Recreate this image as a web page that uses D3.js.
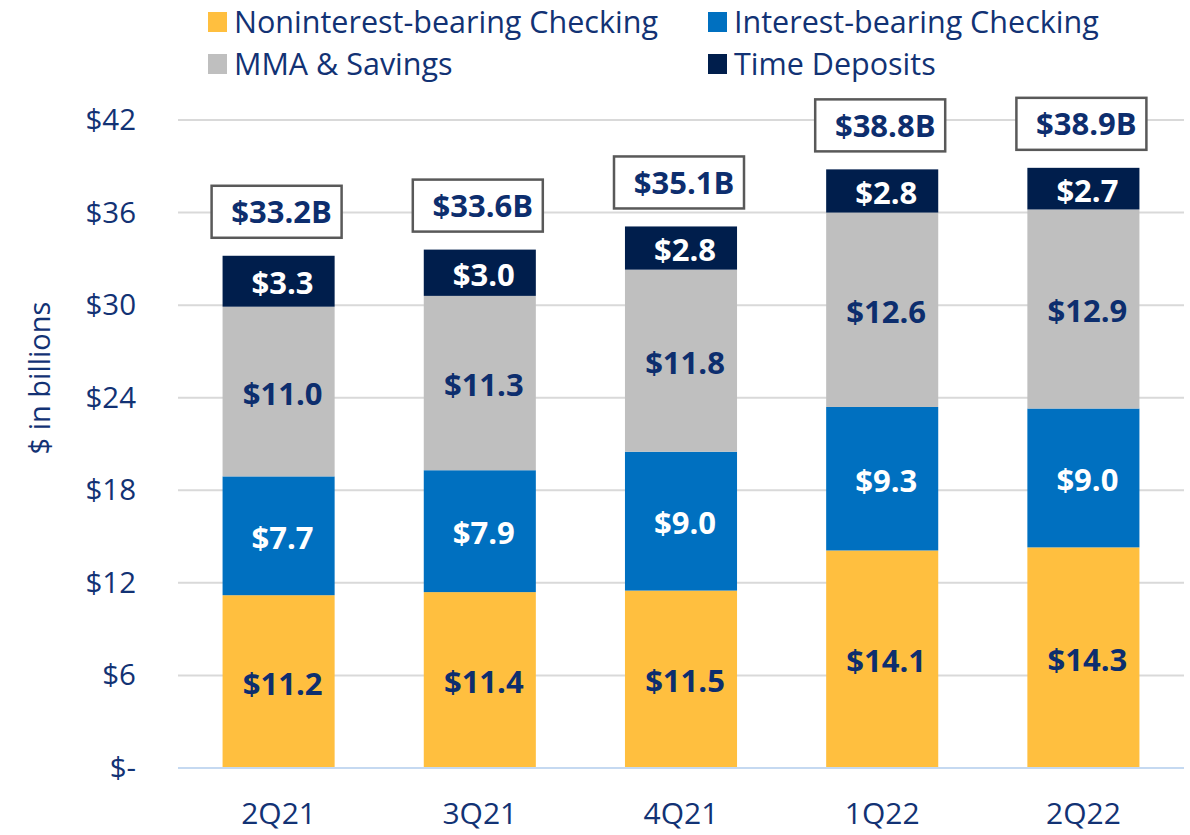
<!DOCTYPE html>
<html>
<head>
<meta charset="utf-8">
<script src="https://cdn.jsdelivr.net/npm/d3@7"></script>
<style>
  html, body { margin: 0; padding: 0; background: #fff; }
  svg { display: block; font-family: "Open Sans", "Noto Sans", sans-serif; }
</style>
</head>
<body>
<svg id="chart" width="1190" height="835"></svg>
<script>
const categories = ["2Q21", "3Q21", "4Q21", "1Q22", "2Q22"];
const seriesNames = ["Noninterest-bearing Checking", "Interest-bearing Checking", "MMA & Savings", "Time Deposits"];
const nonInterest = [11.2, 11.4, 11.5, 14.1, 14.3];
const interest = [7.7, 7.9, 9.0, 9.3, 9.0];
const mmaSavings = [11.0, 11.3, 11.8, 12.6, 12.9];
const timeDeposits = [3.3, 3.0, 2.8, 2.8, 2.7];
const totals = [33.2, 33.6, 35.1, 38.8, 38.9];
const yTicks = [0, 6, 12, 18, 24, 30, 36, 42];
const yTickLabels = ["$-", "$6", "$12", "$18", "$24", "$30", "$36", "$42"];

const colors = ["#FFBF3F", "#0070C0", "#BFBFBF", "#001E4C"];
const labelColors = ["#0D2E6E", "#FFFFFF", "#0D2E6E", "#FFFFFF"];
const navy = "#123274";

const svg = d3.select("#chart");
const margin = {left: 178, right: 6, top: 120, bottom: 67};
const W = 1190, H = 835;

const x = d3.scaleBand().domain(categories).range([margin.left, W - margin.right]).paddingInner(0.443).paddingOuter(0.2215);
const y = d3.scaleLinear().domain([0, 42]).range([H - margin.bottom, margin.top]);

// gridlines
svg.append("g").selectAll("line").data(yTicks.filter(d => d > 0)).join("line")
  .attr("x1", margin.left).attr("x2", W - margin.right)
  .attr("y1", d => y(d)).attr("y2", d => y(d))
  .attr("stroke", "#D9D9D9").attr("stroke-width", 2);

// y axis
const yAxis = d3.axisLeft(y).tickValues(yTicks).tickFormat((d, i) => yTickLabels[i]).tickSize(0).tickPadding(42);
const gy = svg.append("g").attr("transform", `translate(${margin.left},0)`).call(yAxis);
gy.select(".domain").remove();
gy.selectAll("text").attr("fill", navy).style("font-size", "29.5px").style("font-family", "'Open Sans', sans-serif");

// stacked data
const rows = categories.map((c, i) => ({cat: c, s0: nonInterest[i], s1: interest[i], s2: mmaSavings[i], s3: timeDeposits[i]}));
const stack = d3.stack().keys(["s0", "s1", "s2", "s3"]);
const stacked = stack(rows);

const barG = svg.append("g");
stacked.forEach((layer, li) => {
  const g = barG.append("g");
  g.selectAll("rect").data(layer).join("rect")
    .attr("x", d => x(d.data.cat))
    .attr("width", x.bandwidth())
    .attr("y", d => y(d[1]))
    .attr("height", d => y(d[0]) - y(d[1]))
    .attr("fill", colors[li]);
  g.selectAll("text").data(layer).join("text")
    .attr("x", d => x(d.data.cat) + x.bandwidth() / 2 + 4)
    .attr("y", d => (y(d[0]) + y(d[1])) / 2 + 2)
    .attr("dy", "0.36em")
    .attr("text-anchor", "middle")
    .attr("fill", labelColors[li])
    .style("font-size", "31px").style("font-weight", 700)
    .text(d => "$" + (d[1] - d[0]).toFixed(1));
});

// baseline
svg.append("line").attr("x1", margin.left).attr("x2", W - margin.right)
  .attr("y1", y(0)).attr("y2", y(0)).attr("stroke", "#C5D9F1").attr("stroke-width", 2);

// x axis
const xAxis = d3.axisBottom(x).tickSize(0).tickPadding(35);
const gx = svg.append("g").attr("transform", `translate(0,${y(0)})`).call(xAxis);
gx.select(".domain").remove();
gx.selectAll("text").attr("fill", navy).style("font-size", "30px").style("font-family", "'Open Sans', sans-serif");

// total boxes
const boxW = 130, boxH = 52;
const tg = svg.append("g");
categories.forEach((c, i) => {
  const cx = x(c) + x.bandwidth() / 2 - 2;
  const bottom = y(totals[i]) - 18;
  tg.append("rect").attr("x", cx - boxW / 2).attr("y", bottom - boxH)
    .attr("width", boxW).attr("height", boxH)
    .attr("fill", "#fff").attr("stroke", "#595959").attr("stroke-width", 2.5);
  tg.append("text").attr("x", cx + 5).attr("y", bottom - boxH / 2).attr("dy", "0.36em")
    .attr("text-anchor", "middle").attr("fill", "#0D2E6E")
    .style("font-size", "31px").style("font-weight", 700)
    .text("$" + totals[i].toFixed(1) + "B");
});

// y axis title
svg.append("text").attr("transform", `translate(40,378) rotate(-90)`)
  .attr("text-anchor", "middle").attr("dy", "0.36em").attr("fill", navy)
  .style("font-size", "29px").text("$ in billions");

// legend
const legendPos = [[208, 22], [708, 22], [208, 64], [708, 64]];
const lg = svg.append("g");
seriesNames.forEach((name, i) => {
  const [lx, ly] = legendPos[i];
  lg.append("rect").attr("x", lx).attr("y", ly - 10).attr("width", 19).attr("height", 20).attr("fill", colors[i]);
  lg.append("text").attr("x", lx + 26).attr("y", ly).attr("dy", "0.36em")
    .attr("fill", navy).style("font-size", "30.5px").text(name);
});
</script>
</body>
</html>
